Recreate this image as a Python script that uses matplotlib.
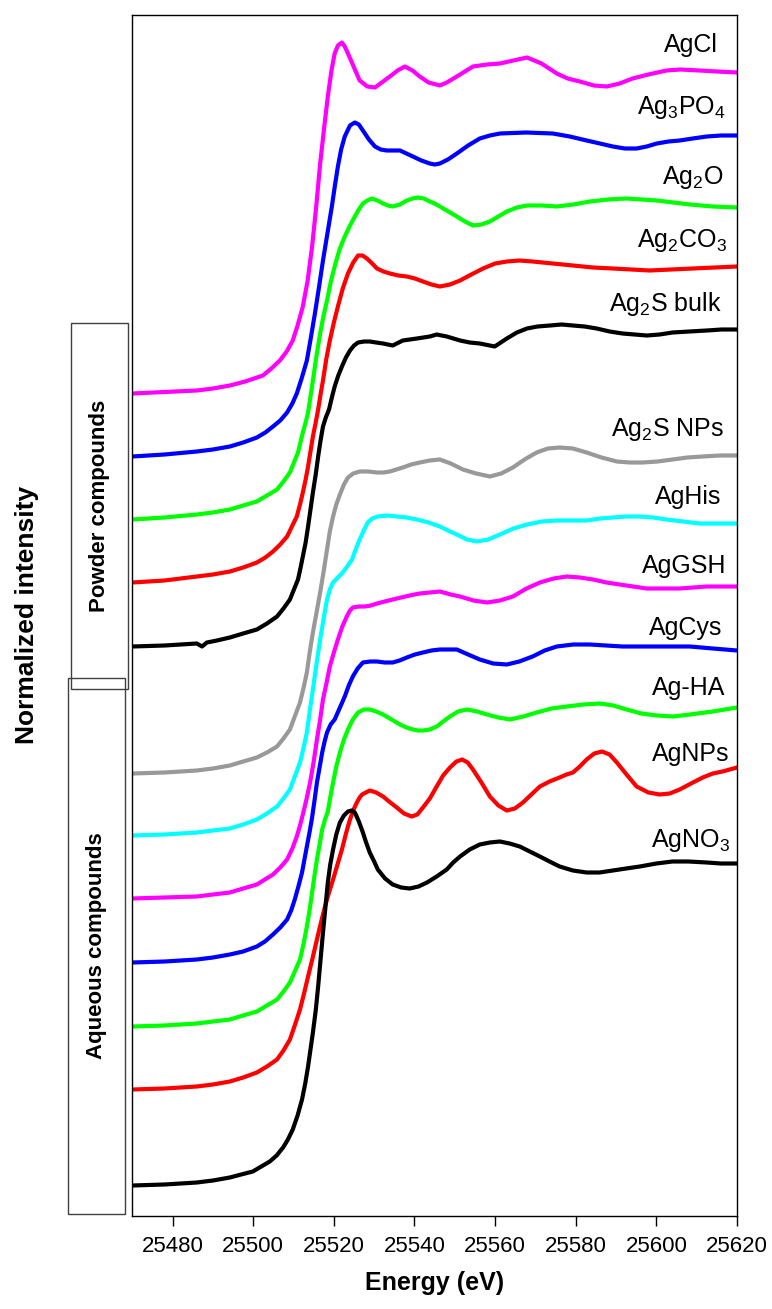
import matplotlib
matplotlib.use("Agg")
import matplotlib.pyplot as plt
from matplotlib.patches import Rectangle

plt.rcParams['font.family'] = ['Liberation Sans', 'DejaVu Sans']
plt.rcParams['mathtext.fontset'] = 'custom'
plt.rcParams['mathtext.rm'] = 'Liberation Sans'
plt.rcParams['mathtext.it'] = 'Liberation Sans:italic'
plt.rcParams['mathtext.bf'] = 'Liberation Sans:bold'

# ---------------- data (energy in eV, normalized intensity + vertical offset) -------------
agcl_e = [25470, 25478, 25486.0, 25490, 25494.2, 25498, 25502.4, 25504.5, 25506.6, 25508.3,
          25509.8, 25511, 25512.3, 25513.5, 25514.6, 25515.6, 25516.6, 25517.6, 25518.5, 25519.4,
          25520.2, 25521.0, 25522.0, 25522.7, 25523.5, 25525, 25526.4, 25528.3, 25530.2, 25533.9,
          25535.8, 25537.6, 25539.5, 25541.3, 25543.5, 25546.3, 25548, 25550.5, 25552.5, 25554.5,
          25558, 25561.2, 25564.5, 25567.9, 25571.5, 25575.3, 25578, 25581.0, 25584.5, 25587.7,
          25590.9, 25594.1, 25598, 25602.5, 25606, 25610.7, 25615, 25620]
agcl_y = [8.22, 8.235, 8.25, 8.27, 8.30, 8.34, 8.40, 8.47, 8.55, 8.64,
          8.75, 8.90, 9.09, 9.35, 9.69, 10.08, 10.52, 10.88, 11.19, 11.45,
          11.62, 11.70, 11.73, 11.69, 11.62, 11.48, 11.35, 11.29, 11.28, 11.39,
          11.45, 11.49, 11.45, 11.39, 11.33, 11.30, 11.33, 11.39, 11.44, 11.49,
          11.51, 11.52, 11.55, 11.58, 11.52, 11.42, 11.37, 11.34, 11.30, 11.29,
          11.32, 11.37, 11.41, 11.45, 11.46, 11.45, 11.44, 11.43]

ag3po4_e = [25470, 25478, 25486.0, 25490, 25494.2, 25497.5, 25500.9, 25503, 25504.9, 25506.7,
            25508.4, 25509.7, 25510.8, 25512, 25513.3, 25514.3, 25515.3, 25516.3, 25517.3, 25518.4,
            25519.5, 25520.3, 25521.0, 25521.8, 25522.7, 25524, 25525.2, 25526.2, 25527.2, 25528.7,
            25530.2, 25531.6, 25533.1, 25534.8, 25536.4, 25538, 25539.6, 25541.7, 25543.8, 25545,
            25546.3, 25548.3, 25550.5, 25553.3, 25556.2, 25558.7, 25561.2, 25567.7, 25574.3, 25578.5,
            25582.7, 25586, 25589.2, 25592.2, 25595.1, 25597.6, 25600.1, 25603, 25605.8, 25609,
            25612.5, 25616, 25620]
ag3po4_y = [7.59, 7.61, 7.64, 7.66, 7.69, 7.73, 7.78, 7.83, 7.89, 7.95,
            8.03, 8.12, 8.22, 8.37, 8.55, 8.78, 9.02, 9.28, 9.55, 9.82,
            10.09, 10.31, 10.49, 10.66, 10.79, 10.90, 10.93, 10.91, 10.85, 10.76,
            10.69, 10.66, 10.65, 10.65, 10.65, 10.62, 10.59, 10.55, 10.52, 10.51,
            10.52, 10.56, 10.62, 10.70, 10.77, 10.80, 10.82, 10.83, 10.82, 10.79,
            10.75, 10.72, 10.69, 10.67, 10.67, 10.69, 10.72, 10.74, 10.75, 10.77,
            10.79, 10.80, 10.80]

ag2o_e = [25470, 25478, 25486.0, 25490, 25494.2, 25497.5, 25500.9, 25503.4, 25505.9, 25507.5,
          25509.1, 25510.1, 25511.1, 25511.7, 25512.3, 25513, 25513.6, 25514.2, 25514.8, 25515.7,
          25516.6, 25517.4, 25518.3, 25519.2, 25520.2, 25521.4, 25522.7, 25524, 25525.2, 25526.2,
          25527.2, 25528.3, 25529.4, 25530.8, 25532.2, 25533.4, 25534.6, 25536.4, 25538.1, 25539.5,
          25540.8, 25542.3, 25543.8, 25545, 25546.3, 25548.4, 25550.5, 25552.5, 25554.5, 25556.6,
          25558.7, 25560.8, 25562.9, 25565.4, 25567.9, 25571.6, 25575.3, 25579.4, 25583.5, 25588,
          25592.6, 25596.4, 25600.1, 25604.2, 25608.3, 25614, 25620]
ag2o_y = [6.96, 6.98, 7.01, 7.03, 7.06, 7.10, 7.14, 7.20, 7.26, 7.34,
          7.43, 7.53, 7.63, 7.73, 7.83, 7.93, 8.03, 8.19, 8.35, 8.60,
          8.82, 8.99, 9.15, 9.33, 9.49, 9.66, 9.79, 9.90, 9.99, 10.06,
          10.12, 10.15, 10.17, 10.15, 10.12, 10.10, 10.09, 10.11, 10.15, 10.17,
          10.18, 10.17, 10.14, 10.12, 10.09, 10.04, 9.99, 9.94, 9.90, 9.91,
          9.94, 9.99, 10.04, 10.08, 10.10, 10.10, 10.09, 10.11, 10.14, 10.16,
          10.17, 10.16, 10.15, 10.13, 10.11, 10.09, 10.08]

ag2co3_e = [25470, 25478, 25486.0, 25490, 25494.2, 25497.5, 25500.9, 25503, 25504.9, 25506.7,
            25508.4, 25509.6, 25510.8, 25511.6, 25512.3, 25513, 25513.6, 25514.2, 25514.8, 25515.5,
            25516.1, 25516.7, 25517.3, 25518.1, 25519.0, 25520, 25521.0, 25522.2, 25523.5, 25524.8,
            25526.0, 25527.1, 25528.2, 25529.5, 25530.7, 25532.3, 25533.9, 25536, 25538.1, 25540.1,
            25542.1, 25544.2, 25546.3, 25548.8, 25551.3, 25554.1, 25557.0, 25560, 25562.9, 25566,
            25569.3, 25574.3, 25579.3, 25584.2, 25589.2, 25593.8, 25598.3, 25603.6, 25609.0, 25614.5,
            25620]
ag2co3_y = [6.33, 6.35, 6.39, 6.41, 6.44, 6.48, 6.53, 6.58, 6.64, 6.71,
            6.79, 6.89, 6.99, 7.11, 7.23, 7.36, 7.49, 7.64, 7.79, 7.93,
            8.06, 8.21, 8.35, 8.56, 8.75, 8.93, 9.09, 9.27, 9.42, 9.53,
            9.60, 9.60, 9.57, 9.52, 9.47, 9.44, 9.42, 9.40, 9.39, 9.37,
            9.34, 9.31, 9.29, 9.31, 9.35, 9.41, 9.47, 9.52, 9.54, 9.55,
            9.54, 9.52, 9.50, 9.48, 9.47, 9.46, 9.45, 9.46, 9.47, 9.48,
            9.49]

ag2s_bulk_e = [25470, 25478, 25486.0, 25487.3, 25488.5, 25491, 25494.2, 25497.5, 25500.9, 25503.4,
               25505.9, 25507.5, 25509.1, 25510.1, 25511.1, 25511.7, 25512.3, 25513, 25513.6, 25514.2,
               25514.8, 25515.5, 25516.1, 25516.7, 25517.3, 25518, 25518.8, 25519.5, 25520.2, 25521.1,
               25522.0, 25523, 25524.0, 25525, 25526.0, 25527.5, 25528.9, 25530.5, 25532.2, 25534.6,
               25537.1, 25540.6, 25543.8, 25545.5, 25548.0, 25551.3, 25553.7, 25556.2, 25559.9, 25562.9,
               25565.4, 25567.9, 25570.5, 25573.6, 25576.5, 25579.3, 25582.2, 25585.2, 25588.4, 25591.6,
               25594.6, 25597.6, 25600.8, 25604.0, 25608.2, 25612.5, 25616.2, 25620]
ag2s_bulk_y = [5.69, 5.70, 5.72, 5.69, 5.73, 5.75, 5.78, 5.82, 5.86, 5.92,
               5.99, 6.07, 6.16, 6.26, 6.36, 6.47, 6.59, 6.73, 6.89, 7.06,
               7.23, 7.41, 7.59, 7.75, 7.89, 7.98, 8.06, 8.18, 8.29, 8.40,
               8.49, 8.58, 8.65, 8.70, 8.73, 8.74, 8.74, 8.73, 8.72, 8.70,
               8.75, 8.77, 8.79, 8.81, 8.79, 8.75, 8.73, 8.72, 8.69, 8.77,
               8.83, 8.87, 8.89, 8.90, 8.91, 8.90, 8.89, 8.87, 8.84, 8.82,
               8.81, 8.80, 8.81, 8.83, 8.84, 8.85, 8.86, 8.86]

ag2s_nps_e = [25470, 25478, 25486.0, 25490, 25494.2, 25497.5, 25500.9, 25503.4, 25505.9, 25507.5,
              25509.1, 25510.3, 25511.6, 25512.5, 25513.3, 25514, 25514.8, 25515.7, 25516.6, 25517.5,
              25518.3, 25519, 25519.8, 25520.6, 25521.5, 25522.5, 25523.5, 25524.8, 25526.4, 25528.5,
              25530.7, 25532.3, 25533.9, 25535.5, 25537.1, 25539.2, 25541.3, 25543.8, 25546.3, 25549,
              25552.0, 25555.3, 25558.7, 25561.5, 25564.4, 25567.3, 25570.3, 25573.1, 25576.0, 25579.3,
              25582.7, 25586.4, 25590.2, 25593.4, 25596.6, 25600.3, 25604.0, 25607.7, 25611.5, 25615.8,
              25620]
ag2s_nps_y = [4.42, 4.43, 4.45, 4.47, 4.50, 4.54, 4.58, 4.63, 4.69, 4.77,
              4.86, 4.99, 5.13, 5.28, 5.43, 5.63, 5.83, 6.03, 6.23, 6.45,
              6.66, 6.84, 6.99, 7.11, 7.21, 7.31, 7.38, 7.42, 7.44, 7.44,
              7.43, 7.43, 7.44, 7.46, 7.48, 7.51, 7.53, 7.55, 7.56, 7.52,
              7.46, 7.42, 7.39, 7.42, 7.48, 7.56, 7.63, 7.67, 7.68, 7.67,
              7.63, 7.58, 7.54, 7.53, 7.53, 7.54, 7.56, 7.58, 7.59, 7.60,
              7.60]

aghis_e = [25470, 25478, 25486.0, 25490, 25494.2, 25497.5, 25500.9, 25503.4, 25505.9, 25507.5,
           25509.1, 25510.3, 25511.6, 25512.5, 25513.3, 25514, 25514.8, 25515.7, 25516.6, 25517.5,
           25518.3, 25519, 25519.8, 25521, 25522.2, 25523.3, 25524.5, 25525.4, 25526.4, 25527.4,
           25528.4, 25529.5, 25530.9, 25533.2, 25535.6, 25538, 25540.6, 25543.5, 25546.3, 25548.3,
           25550.5, 25553, 25555.5, 25558.3, 25561.2, 25564.5, 25567.9, 25571.6, 25575.3, 25579,
           25582.7, 25586, 25589.2, 25592.5, 25595.9, 25599.2, 25602.5, 25606.6, 25610.7, 25615.3,
           25620]
aghis_y = [3.80, 3.81, 3.83, 3.85, 3.87, 3.91, 3.96, 4.02, 4.09, 4.17,
           4.26, 4.39, 4.53, 4.68, 4.83, 5.04, 5.26, 5.52, 5.76, 5.98,
           6.16, 6.26, 6.33, 6.38, 6.43, 6.49, 6.56, 6.66, 6.76, 6.85,
           6.93, 6.97, 6.99, 7.00, 6.99, 6.98, 6.96, 6.93, 6.89, 6.85,
           6.81, 6.76, 6.74, 6.76, 6.81, 6.87, 6.91, 6.94, 6.95, 6.95,
           6.95, 6.97, 6.98, 6.99, 6.99, 6.98, 6.96, 6.94, 6.92, 6.92,
           6.92]

aggsh_e = [25470, 25478, 25486.0, 25490, 25494.2, 25497.5, 25500.9, 25502.9, 25504.9, 25506.7,
           25508.4, 25509.7, 25510.8, 25511.6, 25512.3, 25513.2, 25514.1, 25515, 25515.8, 25516.6,
           25517.3, 25518.2, 25519.0, 25520, 25521.0, 25522.1, 25523.2, 25524, 25524.7, 25526.2,
           25527.7, 25529.2, 25530.7, 25532.6, 25534.6, 25536.7, 25538.8, 25541.3, 25543.8, 25546.3,
           25549, 25551.3, 25554.6, 25558.0, 25561.2, 25564.4, 25567.8, 25571.1, 25574.5, 25577.8,
           25581, 25584.3, 25587.6, 25590.9, 25594.2, 25597.6, 25601.7, 25605.8, 25609.2, 25612.5,
           25616.2, 25620]
aggsh_y = [3.17, 3.18, 3.19, 3.21, 3.23, 3.27, 3.31, 3.36, 3.41, 3.48,
           3.56, 3.67, 3.79, 3.90, 4.01, 4.16, 4.33, 4.54, 4.76, 4.96,
           5.16, 5.33, 5.49, 5.63, 5.76, 5.89, 5.99, 6.05, 6.08, 6.09,
           6.09, 6.10, 6.12, 6.14, 6.16, 6.18, 6.20, 6.22, 6.23, 6.24,
           6.21, 6.19, 6.15, 6.13, 6.15, 6.19, 6.27, 6.33, 6.37, 6.39,
           6.38, 6.36, 6.33, 6.31, 6.29, 6.27, 6.27, 6.27, 6.28, 6.29,
           6.29, 6.29]

agcys_e = [25470, 25478, 25486.0, 25490, 25494.2, 25497.5, 25500.9, 25502.9, 25504.9, 25506.7,
           25508.4, 25509.4, 25510.3, 25511.2, 25512.1, 25512.7, 25513.3, 25514, 25514.6, 25515.2,
           25515.8, 25516.5, 25517.1, 25517.7, 25518.3, 25519.2, 25520.2, 25521.4, 25522.7, 25523.7,
           25524.7, 25525.9, 25527.2, 25529, 25530.7, 25532.6, 25534.6, 25536.3, 25538.1, 25540.1,
           25542.1, 25544.2, 25546.3, 25550.5, 25553.3, 25556.2, 25559.5, 25562.9, 25566, 25569.3,
           25572.3, 25575.3, 25579.4, 25583.5, 25587.5, 25591.6, 25595.8, 25600.1, 25604.2, 25608.3,
           25614, 25620]
agcys_y = [2.53, 2.54, 2.56, 2.58, 2.61, 2.64, 2.69, 2.74, 2.81, 2.88,
           2.96, 3.05, 3.16, 3.29, 3.43, 3.56, 3.69, 3.84, 3.98, 4.15,
           4.33, 4.49, 4.63, 4.74, 4.83, 4.91, 4.96, 5.07, 5.19, 5.30,
           5.39, 5.47, 5.53, 5.54, 5.54, 5.53, 5.53, 5.55, 5.58, 5.61,
           5.63, 5.65, 5.66, 5.66, 5.61, 5.56, 5.52, 5.51, 5.54, 5.59,
           5.65, 5.69, 5.71, 5.71, 5.70, 5.69, 5.69, 5.69, 5.69, 5.69,
           5.67, 5.65]

agha_e = [25470, 25478, 25486.0, 25490, 25494.2, 25497.5, 25500.9, 25503.4, 25505.9, 25507.5,
          25509.1, 25510.3, 25511.6, 25512.5, 25513.3, 25514, 25514.6, 25515.2, 25515.8, 25516.5,
          25517.1, 25517.8, 25518.5, 25519.1, 25519.8, 25520.6, 25521.5, 25522.5, 25523.5, 25524.7,
          25526.0, 25527.4, 25528.9, 25530.5, 25532.2, 25534.3, 25536.4, 25538, 25539.6, 25540.8,
          25542.1, 25543.8, 25545.5, 25547.1, 25548.8, 25550.8, 25553.0, 25555.5, 25558.0, 25560.8,
          25563.7, 25567, 25570.3, 25574, 25577.8, 25581.9, 25586.0, 25589.3, 25592.6, 25596.3,
          25600.1, 25604.2, 25608.3, 25614, 25620]
agha_y = [1.89, 1.90, 1.92, 1.94, 1.96, 2.00, 2.04, 2.10, 2.16, 2.24,
          2.33, 2.44, 2.56, 2.72, 2.89, 3.06, 3.23, 3.40, 3.56, 3.72,
          3.86, 3.96, 4.04, 4.18, 4.33, 4.49, 4.63, 4.76, 4.86, 4.96,
          5.03, 5.06, 5.06, 5.04, 5.01, 4.96, 4.91, 4.88, 4.86, 4.85,
          4.85, 4.86, 4.89, 4.94, 4.99, 5.04, 5.06, 5.04, 5.01, 4.98,
          4.96, 4.99, 5.03, 5.07, 5.09, 5.11, 5.12, 5.10, 5.06, 5.02,
          5.00, 4.99, 5.01, 5.04, 5.08]

agnps_e = [25470, 25478, 25486.0, 25490, 25494.2, 25497.5, 25500.9, 25503.4, 25505.9, 25507.5,
           25509.1, 25510.3, 25511.6, 25512.6, 25513.6, 25514.7, 25515.8, 25516.8, 25517.8, 25518.8,
           25519.8, 25520.9, 25522.0, 25523, 25524.0, 25524.9, 25525.7, 25526.4, 25527.0, 25528.9,
           25530.5, 25532.2, 25534, 25535.6, 25537.4, 25539.3, 25540.7, 25542.1, 25543.8, 25545.5,
           25547.1, 25548.8, 25550.4, 25551.8, 25553.2, 25554.5, 25556.6, 25558.7, 25560.8, 25562.9,
           25564.9, 25566.9, 25569, 25571.1, 25573.5, 25576.0, 25577.7, 25579.3, 25581, 25582.7,
           25584.6, 25586.5, 25588.4, 25590.2, 25592.6, 25595.1, 25598, 25600.8, 25603.3, 25605.8,
           25608.6, 25611.5, 25614, 25616.4, 25618.2, 25620]
agnps_y = [1.26, 1.27, 1.29, 1.31, 1.34, 1.38, 1.43, 1.49, 1.56, 1.65,
           1.76, 1.90, 2.06, 2.22, 2.39, 2.57, 2.76, 2.93, 3.09, 3.23,
           3.36, 3.51, 3.66, 3.82, 3.96, 4.06, 4.13, 4.18, 4.21, 4.25,
           4.23, 4.19, 4.13, 4.08, 4.02, 3.99, 4.01, 4.08, 4.17, 4.29,
           4.40, 4.48, 4.54, 4.56, 4.53, 4.46, 4.33, 4.19, 4.10, 4.05,
           4.07, 4.13, 4.21, 4.29, 4.34, 4.38, 4.41, 4.43, 4.49, 4.56,
           4.62, 4.64, 4.61, 4.53, 4.41, 4.29, 4.23, 4.21, 4.22, 4.26,
           4.32, 4.38, 4.42, 4.44, 4.46, 4.48]

agno3_e = [25470, 25478, 25486.0, 25490, 25494.2, 25497, 25499.9, 25502, 25504.1, 25505.8,
           25507.4, 25508.6, 25509.8, 25511, 25512.1, 25512.9, 25513.6, 25514.2, 25514.8, 25515.5,
           25516.1, 25516.7, 25517.3, 25517.9, 25518.5, 25519.1, 25519.8, 25520.6, 25521.5, 25522.5,
           25523.5, 25524.4, 25525.2, 25526.2, 25527.2, 25528, 25528.9, 25530, 25530.9, 25532.7,
           25534.6, 25536.7, 25538.8, 25541, 25543.1, 25545.5, 25548.0, 25549.6, 25551.3, 25553.7,
           25556.2, 25558.7, 25561.2, 25563.6, 25566.1, 25568.6, 25571.1, 25573.5, 25576.0, 25579.3,
           25582.7, 25585.9, 25589.2, 25592.5, 25595.9, 25600, 25604.0, 25608, 25612.5, 25616,
           25620]
agno3_y = [0.30, 0.31, 0.33, 0.35, 0.38, 0.41, 0.44, 0.49, 0.54, 0.60,
           0.68, 0.76, 0.86, 1.00, 1.16, 1.32, 1.49, 1.66, 1.83, 2.05,
           2.29, 2.56, 2.83, 3.08, 3.33, 3.51, 3.66, 3.81, 3.93, 4.00,
           4.04, 4.05, 4.03, 3.94, 3.83, 3.73, 3.63, 3.54, 3.46, 3.37,
           3.31, 3.28, 3.27, 3.29, 3.33, 3.39, 3.46, 3.53, 3.59, 3.66,
           3.71, 3.73, 3.74, 3.72, 3.69, 3.64, 3.59, 3.54, 3.49, 3.45,
           3.43, 3.43, 3.45, 3.47, 3.49, 3.52, 3.54, 3.54, 3.53, 3.52,
           3.52]

series_names = ['AgCl', 'Ag$_3$PO$_4$', 'Ag$_2$O', 'Ag$_2$CO$_3$', 'Ag$_2$S bulk',
                'Ag$_2$S NPs', 'AgHis', 'AgGSH', 'AgCys', 'Ag-HA', 'AgNPs', 'AgNO$_3$']
series_e = [agcl_e, ag3po4_e, ag2o_e, ag2co3_e, ag2s_bulk_e, ag2s_nps_e,
            aghis_e, aggsh_e, agcys_e, agha_e, agnps_e, agno3_e]
series_y = [agcl_y, ag3po4_y, ag2o_y, ag2co3_y, ag2s_bulk_y, ag2s_nps_y,
            aghis_y, aggsh_y, agcys_y, agha_y, agnps_y, agno3_y]
xticks = [25480, 25500, 25520, 25540, 25560, 25580, 25600, 25620]

# ---------------- style ----------------
colors = ['#FF00FF', '#0000FF', '#00FF00', '#FF0000', '#000000',
          '#999999', '#00FFFF', '#FF00FF', '#0000FF', '#00FF00', '#FF0000', '#000000']
label_x = [25615.2, 25617.2, 25616.7, 25617.4, 25616.2,
           25616.9, 25616.2, 25617.4, 25616.4, 25617.2, 25618.2, 25618.4]
label_y = [11.63, 11.01, 10.31, 9.69, 9.04, 7.79, 7.11, 6.42, 5.81, 5.20, 4.54, 3.69]

W, H = 772, 1309
fig = plt.figure(figsize=(W / 100, H / 100), dpi=100)
ax_l, ax_r, ax_t, ax_b = 132.3, 737.0, 14.7, 1215.5
ax = fig.add_axes([ax_l / W, 1 - ax_b / H, (ax_r - ax_l) / W, (ax_b - ax_t) / H])

for e, y, c in zip(series_e, series_y, colors):
    pts = sorted(zip(e, y))
    ax.plot([p[0] for p in pts], [p[1] for p in pts], color=c, lw=3.0,
            solid_joinstyle='round', solid_capstyle='round')

for name, lx, ly in zip(series_names, label_x, label_y):
    ax.text(lx, ly, name, ha='right', va='baseline', fontsize=18, color='black')

ax.set_xlim(25470, 25620)
ax.set_ylim(0, (ax_b - ax_t) / 100)
ax.set_xticks(xticks)
ax.set_xticklabels([str(t) for t in xticks])
ax.set_yticks([])
ax.tick_params(axis='x', direction='out', length=7, width=1, labelsize=16, pad=8)
for s in ax.spines.values():
    s.set_linewidth(1.0)

ax.set_xlabel('Energy (eV)', fontsize=18, fontweight='bold', va='center')
ax.xaxis.set_label_coords(0.5, (ax_b - 1283) / (ax_b - ax_t))
ax.set_ylabel('Normalized intensity', fontsize=19, fontweight='bold', va='center')
ax.yaxis.set_label_coords((27 - ax_l) / (ax_r - ax_l), 0.5)

# side boxes (figure pixel coordinates -> figure fraction)
boxes = [(71, 323, 128, 689, 'Powder compounds'),
         (68, 678, 125, 1214, 'Aqueous compounds')]
for x0, y0, x1, y1, txt in boxes:
    fig.patches.append(Rectangle((x0 / W, 1 - y1 / H), (x1 - x0) / W, (y1 - y0) / H,
                                 transform=fig.transFigure, fill=False,
                                 edgecolor='#404040', lw=1.0))
    fig.text((x0 + x1) / 2 / W, 1 - (y0 + y1) / 2 / H, txt, rotation=90,
             ha='center', va='center', fontsize=16, fontweight='bold')

fig.savefig('out.png', dpi=100)
